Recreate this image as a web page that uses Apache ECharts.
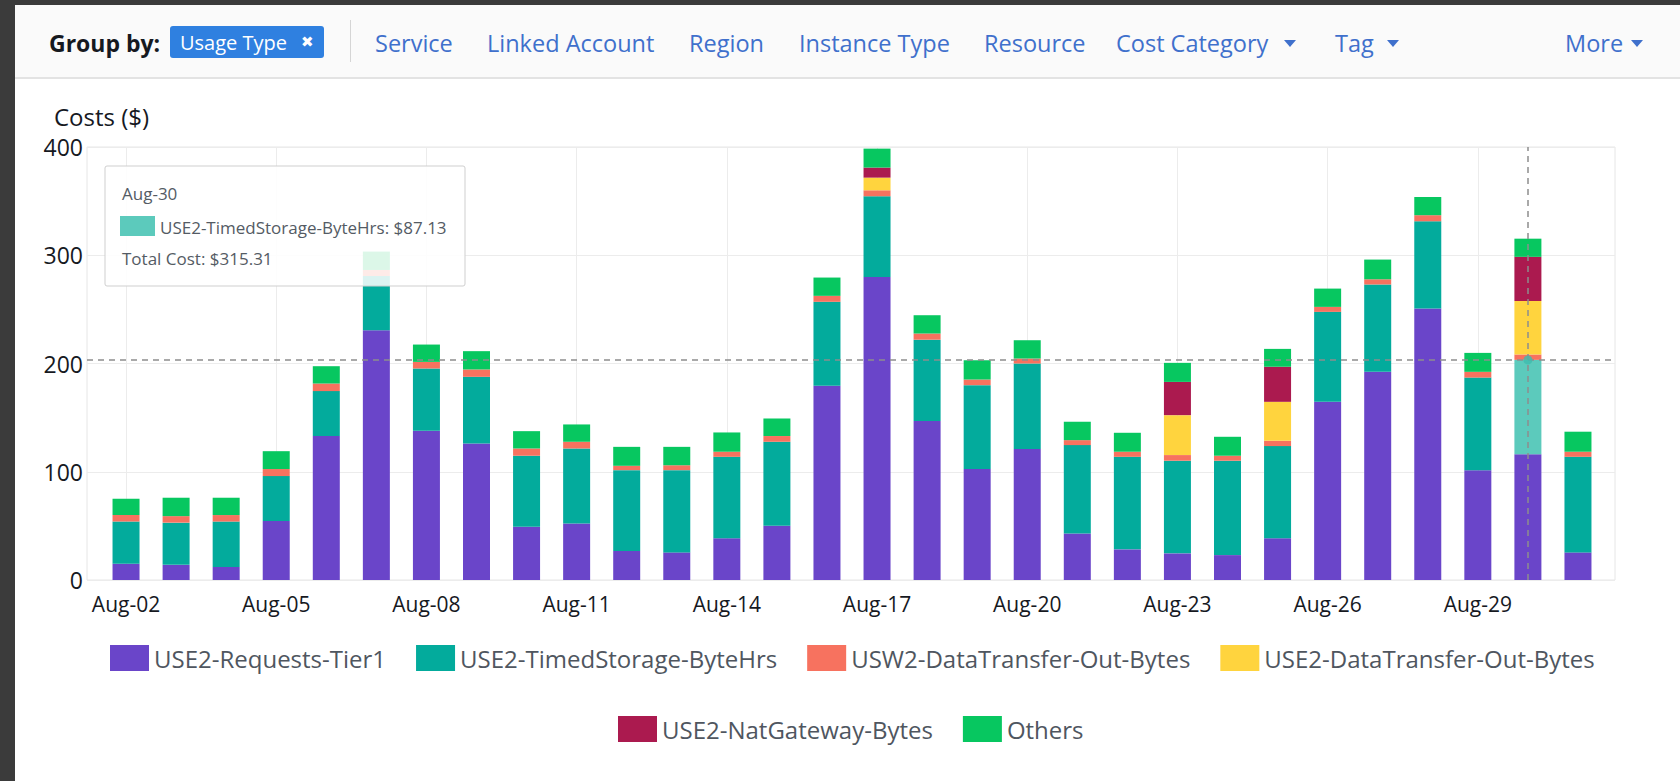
<!DOCTYPE html>
<html><head><meta charset="utf-8">
<script src="https://cdn.jsdelivr.net/npm/echarts@6/dist/echarts.min.js"></script>
<style>html,body{margin:0;padding:0;background:#3b3b3b;overflow:hidden}#c{width:1680px;height:781px}</style>
</head><body><div id="c"></div>
<script>
// ---- data ----
const dates = ['Aug-02','Aug-03','Aug-04','Aug-05','Aug-06','Aug-07','Aug-08','Aug-09','Aug-10','Aug-11',
  'Aug-12','Aug-13','Aug-14','Aug-15','Aug-16','Aug-17','Aug-18','Aug-19','Aug-20','Aug-21',
  'Aug-22','Aug-23','Aug-24','Aug-25','Aug-26','Aug-27','Aug-28','Aug-29','Aug-30','Aug-31'];
const seriesNames = ['USE2-Requests-Tier1','USE2-TimedStorage-ByteHrs','USW2-DataTransfer-Out-Bytes',
  'USE2-DataTransfer-Out-Bytes','USE2-NatGateway-Bytes','Others'];
const requestsTier1 = [15,14,12,54.5,133,230.8,137.8,126,49.2,52.3,26.8,25.5,38.5,50.2,179.4,280,146.8,102.5,121,43,28.3,24.6,23,38.5,164.6,192.3,250.8,101.5,116.2,25.5];
const timedStorage = [39,39,42,41.5,41.5,50,57.6,61.7,65.6,69.2,74.7,76,75.3,77.5,77.6,74.5,75.2,77.5,79,81.6,85.5,85.6,87.2,85.2,83.1,80.7,80.6,85.5,87.13,88.3];
const usw2Transfer = [6,6,6,6.5,7,5.6,6.1,6.8,6.7,6.2,4,4.5,4.7,5.3,5.5,5.5,5.7,5.2,4.6,4.6,4.7,5.2,4.6,4.9,4.6,4.8,5.6,5.3,5.0,4.7];
const use2Transfer = [0,0,0,0,0,0,0,0,0,0,0,0,0,0,0,11.7,0,0,0,0,0,36.9,0,36,0,0,0,0,49.5,0];
const natGateway = [0,0,0,0,0,0,0,0,0,0,0,0,0,0,0,9.3,0,0,0,0,0,30.7,0,32.4,0,0,0,0,40.7,0];
const others = [15,17,16,16.5,16,17,16,16.9,16,16,17.5,17,17.8,16.2,16.9,17.5,16.9,17.8,16.9,17,17.5,17.6,17.5,16.5,16.9,18.2,16.8,17.5,16.78,18.5];
const yTicks = [0,100,200,300,400];
const hoverDate = 'Aug-30';
const hoverSeries = 'USE2-TimedStorage-ByteHrs';
const headerLinks = ['Service','Linked Account','Region','Instance Type','Resource','Cost Category','Tag','More'];

// ---- styles ----
const colors = ['#6a45c9','#03ab9c','#f7725f','#ffd43e','#ab1a4f','#07c760'];
const FONT = '"Open Sans", "Noto Sans", sans-serif';
const values = [requestsTier1,timedStorage,usw2Transfer,use2Transfer,natGateway,others];
const hi = dates.indexOf(hoverDate);
const hs = seriesNames.indexOf(hoverSeries);
let stackTop = 0; for (let k=0;k<=hs;k++) stackTop += values[k][hi];
let total = 0; values.forEach(a => total += a[hi]);

const barSeries = seriesNames.map((name, k) => ({
  name, type:'bar', stack:'total', xAxisIndex:1, yAxisIndex:1, barWidth:27,
  itemStyle:{color:colors[k]},
  data: values[k].map((v,i) => (k===hs && i===hi) ? {value:v, itemStyle:{color:'#5ccabc'}} : v),
  emphasis:{disabled:true}
}));

const linkX = [375,487,689,799,984,1116,1335,1565];
const caretAfter = {'Cost Category':1284,'Tag':1387,'More':1631};
const linkColor = '#3f70cc';
const headerGraphics = [
  {type:'rect', shape:{x:0,y:0,width:1680,height:781}, style:{fill:'#3b3b3b'}, z:-10, silent:true},
  {type:'rect', shape:{x:15,y:5,width:1665,height:776}, style:{fill:'#ffffff'}, z:-9, silent:true},
  {type:'rect', shape:{x:15,y:5,width:1665,height:73}, style:{fill:'#fafafa'}, z:-8, silent:true},
  {type:'rect', shape:{x:15,y:77,width:1665,height:2}, style:{fill:'#e3e3e3'}, z:-8, silent:true},
  {type:'text', x:49, y:43, style:{text:'Group by:', font:'bold 23px '+FONT, fill:'#16191f', verticalAlign:'middle'}},
  {type:'rect', shape:{x:170,y:26,width:154,height:32,r:3}, style:{fill:'#2f80e0'}},
  {type:'text', x:180, y:42, style:{text:'Usage Type', font:'20px '+FONT, fill:'#ffffff', verticalAlign:'middle'}},
  {type:'text', x:301, y:42, style:{text:'✖', font:'15px "DejaVu Sans"', fill:'#ffffff', verticalAlign:'middle'}},
  {type:'rect', shape:{x:350,y:20,width:1,height:42}, style:{fill:'#d5d5d5'}},
  {type:'text', x:54, y:116, style:{text:'Costs ($)', font:'24px '+FONT, fill:'#16191f', verticalAlign:'middle'}}
];
headerLinks.forEach((t,i) => {
  headerGraphics.push({type:'text', x:linkX[i], y:43, style:{text:t, font:'23.5px '+FONT, fill:linkColor, verticalAlign:'middle'}});
  if (caretAfter[t]) {
    const cx = caretAfter[t];
    headerGraphics.push({type:'polygon', shape:{points:[[cx,40],[cx+12,40],[cx+6,47]]}, style:{fill:linkColor}});
  }
});

// tooltip box (static, as in the screenshot)
const tipGraphics = {
  type:'group', x:105, y:166, z:100, children:[
    {type:'rect', shape:{x:0,y:0,width:360,height:120,r:2}, style:{fill:'rgba(255,255,255,0.86)', stroke:'#cfcfcf', lineWidth:1}, z:100},
    {type:'text', x:17, y:27, style:{text:hoverDate, font:'17px '+FONT, fill:'#545b64', verticalAlign:'middle'}, z:101},
    {type:'rect', shape:{x:15,y:50,width:35,height:20}, style:{fill:'#5ccabc'}, z:101},
    {type:'text', x:55, y:61, style:{text:hoverSeries+': $'+values[hs][hi].toFixed(2), font:'17px '+FONT, fill:'#545b64', verticalAlign:'middle'}, z:101},
    {type:'text', x:17, y:92, style:{text:'Total Cost: $'+total.toFixed(2), font:'17px '+FONT, fill:'#545b64', verticalAlign:'middle'}, z:101}
  ]
};

const legendCommon = {icon:'rect', itemWidth:39, itemHeight:26, itemGap:30, padding:5,
  selectedMode:false, textStyle:{color:'#4f565f', fontFamily:FONT, fontSize:24}};

const chart = echarts.init(document.getElementById('c'), null, {renderer:'svg', width:1680, height:781});
chart.setOption({
  animation:false,
  backgroundColor:'transparent',
  grid:[
    {left:87, right:65, top:147, bottom:201, show:true, borderColor:'#e6e6e6', borderWidth:1, backgroundColor:'transparent'},
    {left:101, right:77, top:147, bottom:201}
  ],
  xAxis:[
    {gridIndex:0, type:'value', min:0, max:1, show:false},
    {gridIndex:1, type:'category', data:dates,
     axisLine:{show:false}, axisTick:{show:false},
     axisLabel:{interval:2, color:'#16191f', fontFamily:FONT, fontSize:21, margin:13},
     splitLine:{show:true, interval:2, alignWithLabel:true, lineStyle:{color:'#ececec'}}}
  ],
  yAxis:[
    {gridIndex:0, type:'value', min:yTicks[0], max:yTicks[yTicks.length-1], interval:100,
     axisLine:{show:false}, axisTick:{show:false},
     axisLabel:{color:'#16191f', fontFamily:FONT, fontSize:23, margin:4},
     splitLine:{lineStyle:{color:'#ececec'}}},
    {gridIndex:1, type:'value', min:yTicks[0], max:yTicks[yTicks.length-1], interval:100, show:false}
  ],
  legend:[
    Object.assign({data:seriesNames.slice(0,4), top:640, left:105}, legendCommon),
    Object.assign({data:seriesNames.slice(4), top:711, left:613}, legendCommon)
  ],
  series: barSeries.concat([
    {type:'line', xAxisIndex:0, yAxisIndex:0, data:[[0,stackTop],[1,stackTop]], symbol:'none', z:20, silent:true,
     lineStyle:{color:'#8d8d8d', type:[6,5], width:1.5}},
    {type:'scatter', xAxisIndex:1, yAxisIndex:1, data:[[hoverDate, stackTop]], symbolSize:9, z:21, silent:true,
     itemStyle:{color:'#3fbcae'},
     markLine:{silent:true, symbol:['none','none'], label:{show:false},
       lineStyle:{color:'#8d8d8d', type:[6,5], width:1.5}, data:[{xAxis:hoverDate}]}}
  ]),
  graphic: headerGraphics.concat([tipGraphics])
});
</script></body></html>
